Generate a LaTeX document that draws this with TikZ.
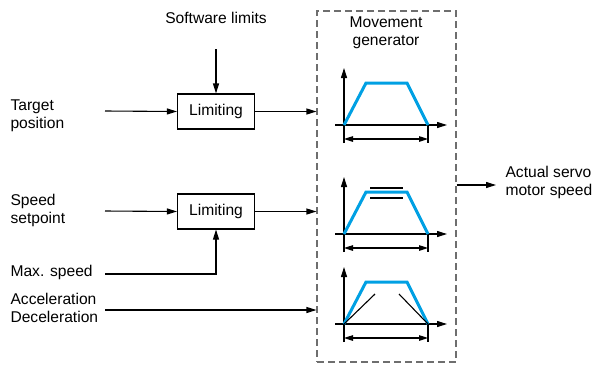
\documentclass[tikz,border=0pt]{standalone}
\usepackage{fontspec}
\setmainfont{Liberation Sans}
\usetikzlibrary{arrows.meta,positioning}
\definecolor{profile}{RGB}{0,160,227}
\definecolor{frame}{RGB}{110,110,110}

\begin{document}
\begin{tikzpicture}[x=1pt,y=-1pt, font=\fontsize{15.6}{18}\selectfont, line width=1.1pt,
  tip/.style={-{Triangle[length=10pt,width=6pt]}},
  dim/.style={{Triangle[length=9pt,width=5.5pt]}-{Triangle[length=9pt,width=5.5pt]}},
  limbox/.style={draw, minimum width=77pt, minimum height=35pt, inner sep=0pt},
  lbl/.style={align=left, anchor=base west, inner sep=0pt}]
\useasboundingbox (0,0) rectangle (593,365);
% movement generator frame
\node[draw=frame, dash pattern=on 7pt off 4pt, minimum width=139pt, minimum height=351pt] (mg) at (386.5,186.5) {};
\node[align=center, anchor=base, inner sep=0pt] (mgt) at (386,45) {Movement\\generator};
% inputs
\node[anchor=base, inner sep=0pt] (sw) at (216,23) {Software limits};
\node[lbl] (tp)  at (10,128) {Target\\position};
\node[lbl] (ss)  at (10,223) {Speed\\setpoint};
\node[lbl] (ms)  at (10,276) {Max. speed};
\node[lbl] (acc) at (10,322) {Acceleration\\Deceleration};
\node[limbox] (lim1) at (216,111.5) {Limiting};
\node[limbox] (lim2) at (216,211.5) {Limiting};
\coordinate (swin)  at (216,49);
\coordinate (tpin)  at (105,111);
\coordinate (ssin)  at (105,211);
\coordinate (msin)  at (105,274);
\coordinate (accin) at (105,310);
\coordinate (outend) at (496,185);
\node[lbl] (out) at (505,195) {Actual servo\\motor speed};
% connectors
\draw[tip] (swin) -- (lim1.north);
\draw[tip] (tpin) -- (lim1.west);
\draw[tip] (lim1.east) -- (lim1.east -| mg.west);
\draw[tip] (ssin) -- (lim2.west);
\draw[tip] (lim2.east) -- (lim2.east -| mg.west);
\draw[tip] (msin) -| (lim2.south);
\draw[tip] (accin) -- (accin -| mg.west);
\draw[tip] (mg.east |- outend) -- (outend);
% speed profiles
\foreach \b in {125,234,324} {
  \draw[tip] (335,\b) -- (447,\b);
  \draw[tip] (344,\b+18) -- (344,\b-57);
  \draw (428,\b) -- (428,\b+18);
  \draw[dim] (344,\b+14) -- (428,\b+14);
  \draw[profile, line width=3pt] (344,\b) -- (366,\b-42) -- (407,\b-42) -- (428,\b);
}
\draw (370,188) -- (403,188);
\draw (370,198) -- (403,198);
\draw (344,324) -- (375,294);
\draw (399,294) -- (428,324);
\end{tikzpicture}
\end{document}
